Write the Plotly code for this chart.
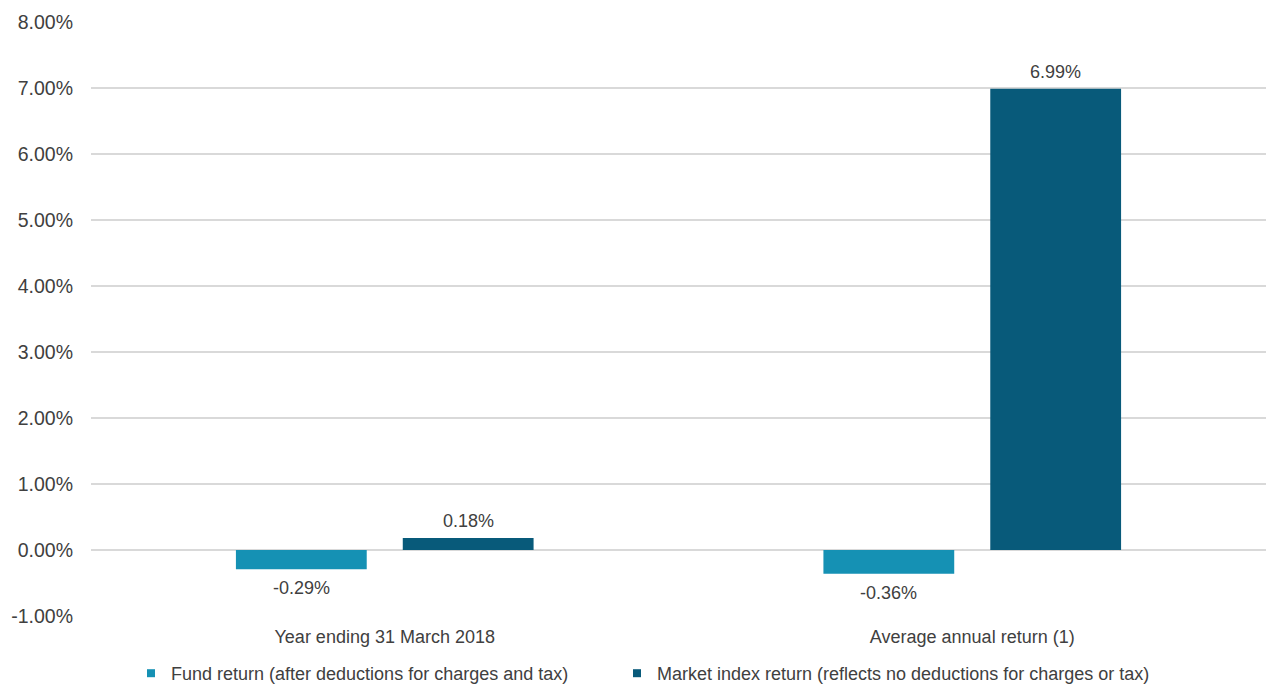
import plotly.graph_objects as go

categories = ["Year ending 31 March 2018", "Average annual return (1)"]
fund_values = [-0.29, -0.36]
market_values = [0.18, 6.99]
fund_name = "Fund return (after deductions for charges and tax)"
market_name = "Market index return (reflects no deductions for charges or tax)"
tick_values = [-1, 0, 1, 2, 3, 4, 5, 6, 7, 8]
tick_labels = ["-1.00%", "0.00%", "1.00%", "2.00%", "3.00%", "4.00%", "5.00%", "6.00%", "7.00%", "8.00%"]

font = "Liberation Sans, Arial, sans-serif"
txt = "#404040"
fund_color = "#1591b4"
market_color = "#085a7a"

W, H = 1266, 684
ML, MR, MT, MB = 91, 0, 22, 68
BARGAP = 0.432
band_px = (W - ML - MR) / len(categories)
slot_off = band_px * (1 - BARGAP) / 4

fig = go.Figure()
for name, vals, col, side, leg in [(fund_name, fund_values, fund_color, -1, "legend"),
                                   (market_name, market_values, market_color, 1, "legend2")]:
    fig.add_trace(go.Bar(
        x=categories, y=vals, name=name, showlegend=False,
        marker=dict(color=col, line=dict(width=0)),
    ))
    # legend entry with small square marker
    fig.add_trace(go.Scatter(
        x=[None], y=[None], mode="markers", name=name, legend=leg,
        marker=dict(symbol="square", size=8, color=col),
    ))
    for c, v in zip(categories, vals):
        fig.add_annotation(
            x=c, y=v, xref="x", yref="y", text=f"{v:.2f}%", showarrow=False,
            xshift=side * slot_off, yshift=17 if v >= 0 else -19,
            font=dict(family=font, size=18, color=txt),
        )

legend_common = dict(orientation="h", xref="container", yref="container",
                     xanchor="left", y=1 - 655 / H, yanchor="top",
                     font=dict(family=font, size=18, color=txt), itemwidth=30,
                     bgcolor="rgba(0,0,0,0)")

fig.update_layout(
    width=W, height=H,
    margin=dict(l=ML, r=MR, t=MT, b=MB),
    paper_bgcolor="white", plot_bgcolor="white",
    barmode="group", bargap=BARGAP, bargroupgap=0.216,
    font=dict(family=font, size=18, color=txt),
    showlegend=True,
    legend=dict(x=131 / W, **legend_common),
    legend2=dict(x=617 / W, **legend_common),
    xaxis=dict(showgrid=False, showline=False, ticks="",
               tickfont=dict(family=font, size=18, color=txt),
               ticklabelstandoff=8),
    yaxis=dict(range=[-1, 8], tickvals=tick_values, ticktext=tick_labels,
               showgrid=True, gridcolor="#d9d9d9", gridwidth=1.5,
               zeroline=True, zerolinecolor="#d9d9d9", zerolinewidth=1.5,
               showline=False, ticks="", ticklabelstandoff=17,
               tickfont=dict(family=font, size=19.5, color=txt)),
)

fig.write_html("out.html", config={"displayModeBar": False},
               post_script="document.body.style.margin='0';document.body.style.overflow='hidden';")
